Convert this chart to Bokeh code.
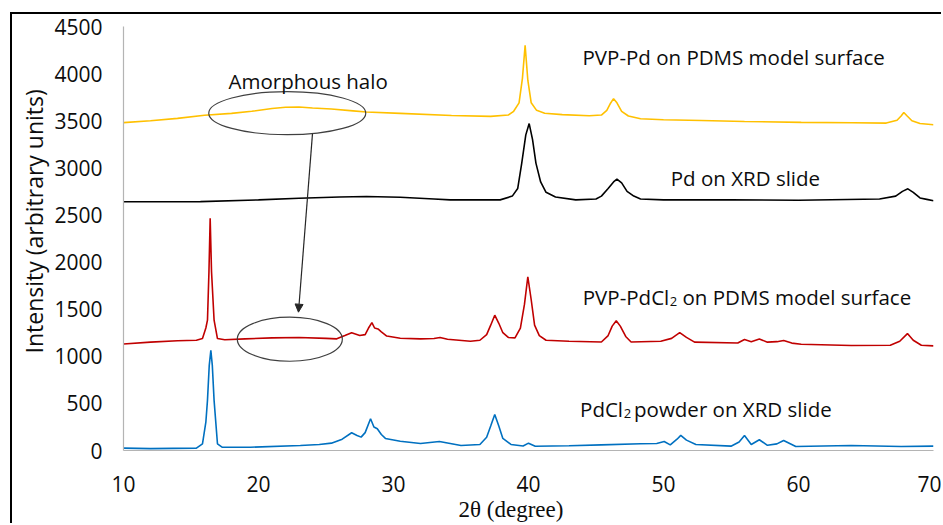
from bokeh.embed import file_html
from bokeh.models import Arrow, FixedTicker, Label, NormalHead, Range1d, Title
from bokeh.plotting import figure
from bokeh.resources import INLINE

# ---- XRD patterns (2-theta in degrees, intensity in arbitrary units) ----
two_theta_pvp_pd = [10, 12, 14, 16, 18, 19.5, 21, 22, 23, 24, 25.4, 27, 28, 30.5, 34.3, 37.2,
                    38.5, 38.9, 39.3, 39.55, 39.75, 39.95, 40.2, 40.6, 41.2, 42.5, 44.5, 45.4,
                    45.8, 46.05, 46.3, 46.55, 46.9, 47.4, 48.3, 50, 52.8, 56, 60.2, 64, 66.5,
                    67.3, 67.6, 67.8, 68.05, 68.4, 69, 70]
intensity_pvp_pd = [3480, 3500, 3525, 3558, 3578, 3600, 3630, 3643, 3645, 3635, 3624, 3605, 3592,
                    3578, 3556, 3546, 3560, 3600, 3690, 3950, 4300, 3930, 3690, 3610, 3580, 3565,
                    3552, 3560, 3610, 3680, 3734, 3690, 3600, 3550, 3521, 3510, 3503, 3492, 3482,
                    3478, 3475, 3505, 3550, 3588, 3550, 3500, 3470, 3457]

two_theta_pd = [10, 15.7, 20, 23, 26, 28, 30.5, 33, 34.2, 37.9, 38.8, 39.2, 39.5, 39.8, 40.05,
                40.3, 40.55, 40.9, 41.3, 42, 43.5, 45.0, 45.4, 45.9, 46.3, 46.55, 46.9, 47.3,
                47.8, 48.3, 50, 55, 60, 66, 67.2, 67.7, 68.1, 68.5, 69, 69.5, 70]
intensity_pd = [2640, 2641, 2660, 2677, 2690, 2695, 2688, 2670, 2660, 2660, 2700, 2780, 3050,
                3350, 3470, 3300, 3050, 2850, 2740, 2690, 2660, 2670, 2700, 2780, 2850, 2880,
                2840, 2750, 2700, 2670, 2660, 2660, 2656, 2670, 2700, 2750, 2777, 2740, 2680,
                2665, 2650]

two_theta_pvp_pdcl2 = [10, 12, 14, 15.4, 15.85, 16.1, 16.22, 16.33, 16.42, 16.52, 16.71, 16.96,
                       17.5, 19, 21, 23, 25, 25.8, 26.4, 26.9, 27.5, 27.9, 28.15, 28.4, 28.6,
                       28.85, 29.1, 29.5, 30.5, 32, 33.0, 33.45, 34, 35.7, 36.4, 36.9, 37.2,
                       37.5, 37.8, 38.1, 38.5, 39.0, 39.4, 39.7, 39.95, 40.2, 40.45, 40.8, 41.3,
                       43, 45.4, 45.9, 46.2, 46.5, 46.8, 47.2, 47.6, 49.8, 50.6, 51.2, 51.7,
                       52.3, 55.5, 56.0, 56.5, 57.1, 57.7, 58.4, 58.9, 59.5, 60.2, 63.9, 66.8,
                       67.5, 68.07, 68.5, 69.1, 70]
intensity_pvp_pdcl2 = [1130, 1150, 1165, 1170, 1188, 1300, 1383, 1900, 2465, 1900, 1383, 1188,
                       1175, 1185, 1195, 1200, 1190, 1185, 1220, 1250, 1220, 1230, 1300, 1358,
                       1300, 1290, 1260, 1215, 1192, 1185, 1188, 1200, 1180, 1160, 1170, 1230,
                       1330, 1436, 1350, 1250, 1200, 1195, 1300, 1550, 1844, 1600, 1330, 1220,
                       1170, 1160, 1152, 1220, 1320, 1376, 1320, 1210, 1152, 1160, 1190, 1252,
                       1200, 1150, 1141, 1178, 1155, 1184, 1150, 1155, 1167, 1140, 1128, 1114,
                       1117, 1160, 1241, 1170, 1117, 1110]

two_theta_pdcl2 = [10, 12, 15.4, 15.85, 16.1, 16.22, 16.35, 16.47, 16.58, 16.71, 16.96, 17.3,
                   19.4, 23.1, 24.5, 25.4, 26.2, 26.9, 27.3, 27.6, 27.9, 28.3, 28.55, 28.8, 29.1,
                   29.4, 30.5, 32, 33.4, 35, 36.4, 36.9, 37.2, 37.5, 37.8, 38.1, 38.7, 39.6,
                   40.0, 40.5, 43, 45.4, 48.3, 49.5, 50.05, 50.5, 51.0, 51.28, 51.7, 52.4, 55,
                   55.6, 56.0, 56.5, 57.1, 57.7, 58.4, 58.9, 59.8, 63.9, 67.6, 70]
intensity_pdcl2 = [25, 20, 25, 71, 300, 532, 900, 1064, 900, 532, 71, 35, 35, 53, 64, 78, 120,
                   188, 160, 142, 190, 337, 250, 231, 170, 128, 99, 74, 96, 53, 64, 140, 260,
                   383, 260, 128, 64, 48, 78, 45, 50, 60, 71, 75, 96, 60, 120, 160, 110, 64, 46,
                   90, 160, 64, 114, 55, 70, 106, 43, 53, 43, 46]

x_ticks = [10, 20, 30, 40, 50, 60, 70]
y_ticks = [0, 500, 1000, 1500, 2000, 2500, 3000, 3500, 4000, 4500]

series = [
    (two_theta_pvp_pd, intensity_pvp_pd, "#FFC000"),
    (two_theta_pd, intensity_pd, "#000000"),
    (two_theta_pvp_pdcl2, intensity_pvp_pdcl2, "#C00000"),
    (two_theta_pdcl2, intensity_pdcl2, "#0070C0"),
]

SANS = "Open Sans"
TEXT = "#0d0d0d"

p = figure(
    width=931, height=511,
    x_range=Range1d(10, 70), y_range=Range1d(0, 4500),
    output_backend="svg", toolbar_location=None,
    min_border_left=111, min_border_right=10, min_border_top=12, min_border_bottom=75,
    margin=(12, 0, 0, 10),
    styles={"border-top": "2px solid #000000", "border-left": "2px solid #000000"},
)
p.outline_line_color = None
p.xgrid.visible = False
p.ygrid.visible = False

for xs, ys, color in series:
    p.line(xs, ys, line_color=color, line_width=1.6)

for ax, ticks, standoff in ((p.xaxis, x_ticks, 19), (p.yaxis, y_ticks, 15)):
    ax.ticker = FixedTicker(ticks=ticks)
    ax.axis_line_color = "#b4b4b4"
    ax.axis_line_width = 1.2
    ax.major_tick_line_color = None
    ax.minor_tick_line_color = None
    ax.major_label_text_font = SANS
    ax.major_label_text_font_size = "21px"
    ax.major_label_text_color = TEXT
    ax.major_label_standoff = standoff

# axis titles, placed as side-panel titles so they can sit off-centre
p.add_layout(Title(text="Intensity (arbitrary units)", align="left", offset=97, standoff=4,
                   text_font=SANS, text_font_size="23px", text_font_style="normal",
                   text_color=TEXT), "left")
p.add_layout(Title(text="2\u03b8 (degree)", align="left", offset=335, standoff=0,
                   text_font="Liberation Serif", text_font_size="23px",
                   text_font_style="normal", text_color=TEXT), "below")


def note(x, y, text, size="20.5px"):
    p.add_layout(Label(x=x, y=y, text=text, text_align="left", text_baseline="alphabetic",
                       text_font=SANS, text_font_size=size, text_color=TEXT))


# curve labels (PdCl2 written with a lowered, smaller "2")
note(44.0, 4173, "PVP-Pd on PDMS model surface")
note(50.54, 2897, "Pd on XRD slide")
note(44.02, 1628, "PVP-PdCl")
note(50.47, 1585, "2", size="13px")
note(51.41, 1628, "on PDMS model surface")
note(43.82, 439, "PdCl")
note(47.06, 396, "2", size="13px")
note(47.82, 439, "powder on XRD slide")
note(17.78, 3922, "Amorphous halo")

# halo markers and the arrow linking them
p.ellipse(x=[22.13, 22.32], y=[3580, 1181], width=[11.63, 7.78], height=[457, 468],
          fill_color=None, line_color="#404040", line_width=1.2)
p.add_layout(Arrow(x_start=24.0, y_start=3363, x_end=22.96, y_end=1468,
                   line_color="#262626", line_width=1.2,
                   end=NormalHead(size=8, fill_color="#262626", line_color="#262626")))

open("out.html", "w").write(file_html(p, INLINE))
